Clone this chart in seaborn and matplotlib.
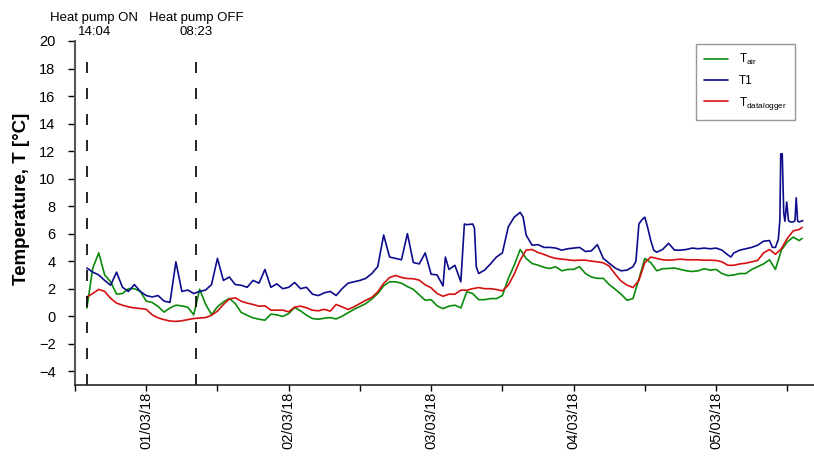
import numpy as np
import pandas as pd
import matplotlib
matplotlib.use("Agg")
import matplotlib.pyplot as plt
import matplotlib.dates as mdates
import seaborn as sns

# logger start reference: hours counted from 28/02/18 12:00
start = pd.Timestamp("2018-02-28 12:00")
end = pd.Timestamp("2018-03-05 16:30")

# T_air and T_datalogger, hourly readings
hours = list(range(2, 123)) + [122.5]
t_air = [0.6, 3.5, 4.6, 3.0, 2.5, 1.6, 1.65, 2.0, 2.0, 1.8,
         1.1, 1.0, 0.7, 0.3, 0.6, 0.8, 0.75, 0.65, 0.1, 1.96,
         0.87, 0.12, 0.68, 1.04, 1.29, 0.92, 0.27, 0.07, -0.12, -0.22,
         -0.29, 0.15, 0.1, -0.02, 0.19, 0.63, 0.39, 0.07, -0.17, -0.22,
         -0.15, -0.1, -0.2, 0.0, 0.25, 0.5, 0.7, 0.92, 1.25, 1.65,
         2.2, 2.5, 2.5, 2.4, 2.15, 1.95, 1.55, 1.16, 1.2, 0.75,
         0.55, 0.73, 0.8, 0.6, 1.77, 1.65, 1.2, 1.2, 1.28, 1.28,
         1.5, 2.74, 3.71, 4.85, 4.2, 3.83, 3.71, 3.55, 3.47, 3.59,
         3.3, 3.4, 3.4, 3.6, 3.1, 2.85, 2.75, 2.75, 2.3, 1.96,
         1.6, 1.16, 1.28, 2.7, 4.2, 3.9, 3.3, 3.45, 3.47, 3.5,
         3.4, 3.3, 3.25, 3.3, 3.45, 3.35, 3.4, 3.1, 2.95, 3.0,
         3.1, 3.1, 3.4, 3.6, 3.8, 4.1, 3.4, 4.8, 5.4, 5.75,
         5.5, 5.65]
t_logger = [1.4, 1.65, 1.95, 1.8, 1.3, 0.95, 0.8, 0.68, 0.6, 0.56,
            0.5, 0.1, -0.12, -0.25, -0.35, -0.38, -0.33, -0.25, -0.17, -0.13,
            -0.1, 0.07, 0.37, 0.85, 1.26, 1.33, 1.09, 0.95, 0.85, 0.73,
            0.75, 0.44, 0.44, 0.44, 0.32, 0.66, 0.73, 0.61, 0.44, 0.39,
            0.5, 0.37, 0.85, 0.68, 0.49, 0.68, 0.92, 1.16, 1.36, 1.77,
            2.38, 2.81, 2.96, 2.81, 2.74, 2.72, 2.62, 2.28, 2.06, 1.65,
            1.45, 1.6, 1.6, 1.89, 1.89, 2.0, 2.08, 2.0, 2.0, 1.94,
            1.84, 2.26, 3.06, 4.07, 4.8, 4.85, 4.63, 4.49, 4.32, 4.2,
            4.15, 4.1, 4.05, 4.07, 4.07, 4.0, 3.95, 3.88, 3.64, 3.06,
            2.55, 2.26, 2.08, 2.6, 3.9, 4.3, 4.2, 4.1, 4.07, 4.1,
            4.15, 4.1, 4.1, 4.1, 4.07, 4.07, 4.05, 3.95, 3.7, 3.7,
            3.8, 3.85, 3.95, 4.05, 4.6, 4.85, 4.5, 4.9, 5.65, 6.2,
            6.3, 6.45]

# T1 has a few extra readings around the spikes
t1_hours = [2, 3, 4, 5, 6, 7, 8, 9, 10, 11,
            12, 13, 14, 15, 16, 17, 18, 19, 20, 21,
            22, 23, 24, 25, 26, 27, 28, 29, 30, 31,
            32, 33, 34, 35, 36, 37, 38, 39, 40, 41,
            42, 43, 44, 45, 46, 47, 48, 49, 50, 51,
            52, 53, 54, 55, 56, 57, 58, 59, 60, 61,
            62, 62.4, 63, 64, 65, 65.6, 66, 67, 67.3, 67.6,
            68, 69, 70, 71, 72, 73, 74, 75, 75.5, 76,
            77, 78, 79, 80, 81, 82, 83, 84, 85, 86,
            87, 88, 89, 90, 91, 92, 93, 94, 94.5, 95,
            95.5, 96, 96.5, 97, 97.5, 98, 99, 100, 101, 102,
            103, 104, 105, 106, 107, 108, 109, 110, 110.5, 111,
            112, 113, 114, 115, 116, 117, 117.5, 118, 118.5, 118.75,
            118.9, 119.15, 119.4, 119.6, 119.9, 120.2, 120.5, 121, 121.3, 121.5,
            121.75, 122, 122.6]
t1 = [3.5, 3.2, 3.0, 2.6, 2.25, 3.2, 2.1, 1.8, 2.3, 1.8,
      1.5, 1.4, 1.5, 1.1, 1.0, 3.95, 1.8, 1.9, 1.65, 1.8,
      1.9, 2.3, 4.2, 2.6, 2.85, 2.3, 2.25, 2.1, 2.6, 2.4,
      3.4, 2.1, 2.35, 2.0, 2.1, 2.45, 2.0, 2.1, 1.6, 1.5,
      1.7, 1.8, 1.5, 2.0, 2.4, 2.5, 2.6, 2.75, 3.1, 3.6,
      5.9, 4.3, 4.2, 4.1, 6.0, 3.9, 3.8, 4.6, 3.05, 3.0,
      2.2, 4.3, 3.4, 3.7, 2.5, 6.7, 6.65, 6.7, 6.4, 3.6,
      3.1, 3.35, 3.8, 4.3, 4.6, 6.5, 7.2, 7.55, 7.2, 5.9,
      5.16, 5.2, 5.0, 5.0, 4.95, 4.8, 4.9, 4.95, 5.0, 4.7,
      4.75, 5.2, 4.2, 3.85, 3.5, 3.3, 3.35, 3.6, 4.0, 6.7,
      7.0, 7.2, 6.4, 5.5, 4.8, 4.65, 4.85, 5.3, 4.8, 4.8,
      4.85, 4.95, 4.9, 4.95, 4.9, 4.95, 4.8, 4.45, 4.3, 4.6,
      4.8, 4.9, 5.0, 5.16, 5.45, 5.5, 5.0, 5.0, 5.6, 7.0,
      11.8, 11.8, 7.5, 6.9, 8.3, 6.95, 6.85, 6.85, 6.95, 8.6,
      6.9, 6.85, 6.95]

events = [pd.Timestamp("2018-02-28 14:04"), pd.Timestamp("2018-03-01 08:23")]
event_labels = ["Heat pump ON\n14:04", "Heat pump OFF\n08:23"]
event_offsets = [5, 0]

colors = {"air": "#0a8a0a", "t1": "#0c0c8c", "log": "#d41010"}

sns.set_style("ticks")
plt.rcParams["font.family"] = ["Liberation Sans", "DejaVu Sans"]
plt.rcParams["mathtext.fontset"] = "custom"
plt.rcParams["mathtext.rm"] = "Liberation Sans"
for key in ["text.color", "axes.labelcolor", "xtick.color", "ytick.color"]:
    plt.rcParams[key] = "black"

df_air = pd.DataFrame({"time": start + pd.to_timedelta(hours, unit="h"), "T": t_air})
df_log = pd.DataFrame({"time": start + pd.to_timedelta(hours, unit="h"), "T": t_logger})
df_t1 = pd.DataFrame({"time": start + pd.to_timedelta(t1_hours, unit="h"), "T": t1})

fig = plt.figure(figsize=(8.14, 4.58), dpi=100)
ax = fig.add_axes([75 / 814, 73 / 458, 739 / 814, 344 / 458])

sns.lineplot(data=df_air, x="time", y="T", color=colors["air"], lw=1.2,
             label=r"$\mathrm{T_{air}}$", ax=ax)
sns.lineplot(data=df_t1, x="time", y="T", color=colors["t1"], lw=1.2,
             label="T1", ax=ax)
sns.lineplot(data=df_log, x="time", y="T", color=colors["log"], lw=1.2,
             label=r"$\mathrm{T_{datalogger}}$", ax=ax)

ymin, ymax = -5, 20
for t, lab, dx in zip(events, event_labels, event_offsets):
    ax.axvline(t, ymin=0, ymax=(18.9 - ymin) / (ymax - ymin), color="black",
               lw=1.2, dashes=(6.6, 9))
    ax.annotate(lab, xy=(mdates.date2num(t), 1), xycoords=("data", "axes fraction"),
                xytext=(dx, 2), textcoords="offset points", ha="center", va="bottom",
                fontsize=9.5)

ax.set_xlim(start, end)
ax.set_ylim(ymin, ymax)
ax.set_yticks(np.arange(-4, 21, 2))
ax.xaxis.set_major_locator(mdates.DayLocator())
ax.xaxis.set_major_formatter(mdates.DateFormatter("%d/%m/%y"))
ax.xaxis.set_minor_locator(mdates.HourLocator(byhour=[12]))
ax.tick_params(axis="x", which="both", direction="out", length=4, width=1,
               labelsize=10.5, labelrotation=90, pad=1)
ax.tick_params(axis="y", direction="out", length=5, width=1, labelsize=10.5, pad=9)

ax.set_xlabel("")
ax.set_ylabel("Temperature, T [°C]", fontsize=13.5, fontweight="bold")
ax.yaxis.set_label_coords(-0.061, 0.54)

sns.despine(ax=ax)
ax.spines["left"].set_color("#555555")
ax.spines["left"].set_linewidth(1.5)
ax.spines["bottom"].set_linewidth(1.2)

leg = ax.legend(loc="upper right", bbox_to_anchor=(795 / 814, 414 / 458),
                bbox_transform=fig.transFigure, fontsize=8.5, frameon=True,
                fancybox=False, edgecolor="#7f7f7f", borderaxespad=0,
                handlelength=2.0, handletextpad=0.9, labelspacing=0.65,
                borderpad=0.7)
leg.get_frame().set_linewidth(1.0)

plt.savefig("out.png", dpi=100)
